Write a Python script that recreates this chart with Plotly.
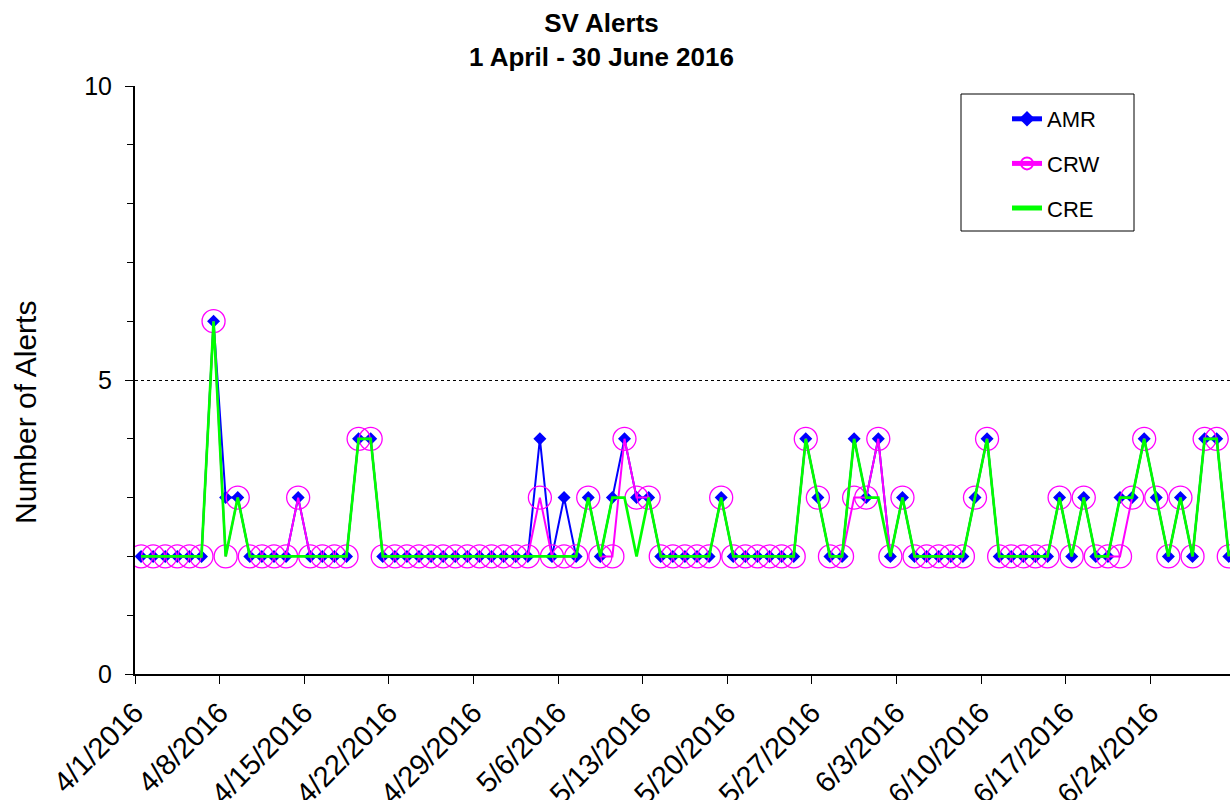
import pandas as pd
import plotly.graph_objects as go

# Daily alert counts, 1 April - 30 June 2016
dates = pd.date_range("2016-04-01", "2016-06-30", freq="D")

amr = [2, 2, 2, 2, 2, 2, 6, 3, 3, 2,
       2, 2, 2, 3, 2, 2, 2, 2, 4, 4,
       2, 2, 2, 2, 2, 2, 2, 2, 2, 2,
       2, 2, 2, 4, 2, 3, 2, 3, 2, 3,
       4, 3, 3, 2, 2, 2, 2, 2, 3, 2,
       2, 2, 2, 2, 2, 4, 3, 2, 2, 4,
       3, 4, 2, 3, 2, 2, 2, 2, 2, 3,
       4, 2, 2, 2, 2, 2, 3, 2, 3, 2,
       2, 3, 3, 4, 3, 2, 3, 2, 4, 4,
       2]

crw = [2, 2, 2, 2, 2, 2, 6, 2, 3, 2,
       2, 2, 2, 3, 2, 2, 2, 2, 4, 4,
       2, 2, 2, 2, 2, 2, 2, 2, 2, 2,
       2, 2, 2, 3, 2, 2, 2, 3, 2, 2,
       4, 3, 3, 2, 2, 2, 2, 2, 3, 2,
       2, 2, 2, 2, 2, 4, 3, 2, 2, 3,
       3, 4, 2, 3, 2, 2, 2, 2, 2, 3,
       4, 2, 2, 2, 2, 2, 3, 2, 3, 2,
       2, 2, 3, 4, 3, 2, 3, 2, 4, 4,
       2]

cre = [2, 2, 2, 2, 2, 2, 6, 2, 3, 2,
       2, 2, 2, 2, 2, 2, 2, 2, 4, 4,
       2, 2, 2, 2, 2, 2, 2, 2, 2, 2,
       2, 2, 2, 2, 2, 2, 2, 3, 2, 3,
       3, 2, 3, 2, 2, 2, 2, 2, 3, 2,
       2, 2, 2, 2, 2, 4, 3, 2, 2, 4,
       3, 3, 2, 3, 2, 2, 2, 2, 2, 3,
       4, 2, 2, 2, 2, 2, 3, 2, 3, 2,
       2, 3, 3, 4, 3, 2, 3, 2, 4, 4,
       2]

tick_labels = ["4/1/2016", "4/8/2016", "4/15/2016", "4/22/2016", "4/29/2016",
               "5/6/2016", "5/13/2016", "5/20/2016", "5/27/2016", "6/3/2016",
               "6/10/2016", "6/17/2016", "6/24/2016"]

# Each day is a category slot; points sit in the middle of their slot,
# weekly ticks sit on the slot boundaries.
x = list(range(len(dates)))
tick_pos = [7 * k - 0.5 for k in range(len(tick_labels))]
day_text = [d.strftime("%-m/%-d/%Y") for d in dates]

FONT = "Arial, Liberation Sans, sans-serif"

fig = go.Figure()
fig.add_trace(go.Scatter(
    x=x, y=amr, name="AMR", mode="lines+markers", legendgroup="a",
    text=day_text, hovertemplate="%{text}: %{y}<extra>AMR</extra>",
    line=dict(color="#0000FF", width=2),
    marker=dict(symbol="diamond", size=10, color="#0000FF"),
))
fig.add_trace(go.Scatter(
    x=x, y=crw, name="CRW", mode="lines+markers", legendgroup="b",
    text=day_text, hovertemplate="%{text}: %{y}<extra>CRW</extra>",
    line=dict(color="#FF00FF", width=2),
    marker=dict(symbol="circle-open", size=23, color="#FF00FF",
                line=dict(width=1.3, color="#FF00FF")),
))
fig.add_trace(go.Scatter(
    x=x, y=cre, name="CRE", mode="lines", legendgroup="c",
    text=day_text, hovertemplate="%{text}: %{y}<extra>CRE</extra>",
    line=dict(color="#00FF00", width=2.7),
))

plot_l, plot_r, plot_t, plot_b = 135, 1230, 86, 674
W, H = 1230, 800


def px_x(p):
    return (p - plot_l) / (plot_r - plot_l)


def px_y(p):
    return (plot_b - p) / (plot_b - plot_t)


fig.update_layout(
    width=W, height=H,
    margin=dict(l=plot_l, r=W - plot_r, t=plot_t, b=H - plot_b),
    paper_bgcolor="white", plot_bgcolor="white",
    font=dict(family=FONT, color="black"),
    title=dict(
        text="<b>SV Alerts<br>1 April - 30 June 2016</b>",
        font=dict(family=FONT, size=26, color="black"),
        x=0.489, xanchor="center", xref="container",
        y=1 - 32 / H, yanchor="top", yref="container",
    ),
    showlegend=True,
    legend=dict(
        x=px_x(1007), xanchor="left", y=px_y(98), yanchor="top",
        bgcolor="rgba(0,0,0,0)", borderwidth=0,
        font=dict(family=FONT, size=22, color="black"),
        tracegroupgap=13, itemsizing="constant",
    ),
    shapes=[dict(
        type="rect", xref="paper", yref="paper",
        x0=px_x(961), x1=px_x(1134), y0=px_y(231), y1=px_y(94),
        line=dict(color="black", width=1), fillcolor="white", layer="above",
    )],
    annotations=[dict(
        text="Number of Alerts", textangle=-90,
        xref="paper", x=px_x(25), xanchor="center",
        yref="paper", y=px_y(413), yanchor="middle",
        showarrow=False, font=dict(family=FONT, size=30, color="black"),
    )],
)

fig.update_xaxes(
    range=[-0.5, 90.1], automargin=False,
    tickmode="array", tickvals=tick_pos, ticktext=tick_labels,
    tickangle=-45, tickfont=dict(family=FONT, size=29, color="black"),
    ticks="outside", ticklen=8, tickwidth=1, tickcolor="black",
    showline=True, linecolor="black", linewidth=2,
    showgrid=False, zeroline=False,
)
fig.update_yaxes(
    range=[0, 10], tickmode="linear", tick0=0, dtick=5, automargin=False,
    tickfont=dict(family=FONT, size=25, color="black"),
    ticks="outside", ticklen=8, tickwidth=1, tickcolor="black",
    ticklabelstandoff=8,
    minor=dict(dtick=1, ticks="outside", ticklen=6, tickwidth=1,
               tickcolor="black", showgrid=False),
    showline=True, linecolor="black", linewidth=2,
    showgrid=True, gridcolor="black", gridwidth=1, griddash="dot",
    zeroline=False,
)

fig.write_html("out.html")
